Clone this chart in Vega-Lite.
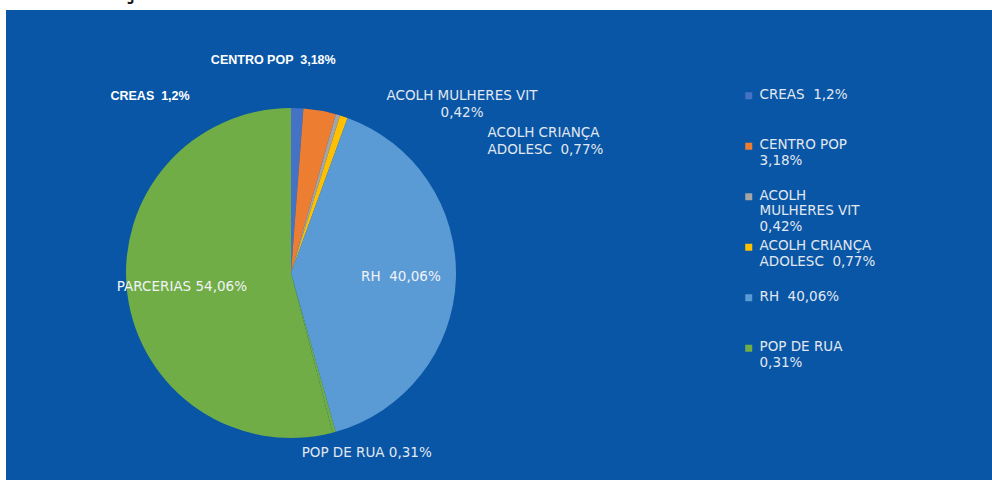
{
  "$schema": "https://vega.github.io/schema/vega-lite/v6.json",
  "width": 986,
  "height": 470,
  "autosize": {"type": "none"},
  "padding": {"left": 6, "top": 10, "right": 0, "bottom": 0},
  "background": "#FFFFFF",
  "view": {"fill": "#0856A5", "stroke": null},
  "title": {"text": "ç", "anchor": "start", "frame": "group", "dx": 116, "offset": 7, "fontSize": 26, "fontWeight": "bold", "color": "#1A1A1A", "font": "DejaVu Sans"},
  "data": {
    "values": [
      {"ordem": 1, "cat": "CREAS", "pct": 1.2, "rotulo": "CREAS \u00a01,2%"},
      {"ordem": 2, "cat": "CENTRO POP", "pct": 3.18, "rotulo": "CENTRO POP \u00a03,18%"},
      {"ordem": 3, "cat": "ACOLH MULHERES VIT", "pct": 0.42, "rotulo": "ACOLH MULHERES VIT|0,42%"},
      {"ordem": 4, "cat": "ACOLH CRIANÇA ADOLESC", "pct": 0.77, "rotulo": "ACOLH CRIANÇA|ADOLESC \u00a00,77%"},
      {"ordem": 5, "cat": "RH", "pct": 40.06, "rotulo": "RH \u00a040,06%"},
      {"ordem": 6, "cat": "POP DE RUA", "pct": 0.31, "rotulo": "POP DE RUA 0,31%"},
      {"ordem": 7, "cat": "PARCERIAS", "pct": 54.06, "rotulo": "PARCERIAS 54,06%"}
    ]
  },
  "encoding": {
    "theta": {"field": "pct", "type": "quantitative", "stack": true},
    "order": {"field": "ordem", "type": "quantitative"}
  },
  "layer": [
    {
      "mark": {"type": "arc", "x": 285, "y": 263, "outerRadius": 165},
      "encoding": {
        "color": {
          "field": "cat",
          "type": "nominal",
          "scale": {
            "domain": ["CREAS", "CENTRO POP", "ACOLH MULHERES VIT", "ACOLH CRIANÇA ADOLESC", "RH", "POP DE RUA", "PARCERIAS"],
            "range": ["#4472C4", "#ED7D31", "#A5A5A5", "#FFC000", "#5B9BD5", "#70AD47", "#70AD47"]
          },
          "legend": {
            "values": ["CREAS", "CENTRO POP", "ACOLH MULHERES VIT", "ACOLH CRIANÇA ADOLESC", "RH", "POP DE RUA"],
            "title": null,
            "orient": "none",
            "legendX": 736,
            "legendY": 79,
            "padding": 0,
            "symbolType": "square",
            "symbolSize": 49,
            "symbolStrokeWidth": 0,
            "labelFont": "DejaVu Sans",
            "labelFontSize": 13.5,
            "labelColor": "#E2E8F1",
            "labelLineHeight": 16.5,
            "labelBaseline": "top",
            "labelOffset": 4,
            "labelLimit": 300,
            "rowPadding": 4.5,
            "encode": {"labels": {"update": {"dy": {"value": -8}}}},
            "labelExpr": "datum.label == 'CREAS' ? ['CREAS \u00a01,2%', '', ''] : datum.label == 'CENTRO POP' ? ['CENTRO POP', '3,18%', ''] : datum.label == 'ACOLH MULHERES VIT' ? ['ACOLH', 'MULHERES VIT', '0,42%'] : datum.label == 'ACOLH CRIANÇA ADOLESC' ? ['ACOLH CRIANÇA', 'ADOLESC \u00a00,77%', ''] : datum.label == 'RH' ? ['RH \u00a040,06%', '', ''] : ['POP DE RUA', '0,31%', '']"
          }
        }
      }
    },
    {
      "mark": {"type": "text", "x": 285, "y": 263, "radius": 110, "font": "DejaVu Sans", "fontSize": 13.5, "color": "#F0F3F8", "align": "center", "baseline": "middle"},
      "encoding": {
        "detail": {"field": "cat"},
        "text": {"condition": {"test": "datum.cat === 'RH' || datum.cat === 'PARCERIAS'", "field": "rotulo"}, "value": ""}
      }
    },
    {
      "mark": {"type": "text", "x": 285, "y": 263, "radius": 177, "dx": -108, "font": "Liberation Sans", "fontWeight": "bold", "fontSize": 12.5, "color": "#FFFFFF", "align": "right", "baseline": "middle"},
      "encoding": {
        "detail": {"field": "cat"},
        "text": {"condition": {"test": "datum.cat === 'CREAS'", "field": "rotulo"}, "value": ""}
      }
    },
    {
      "mark": {"type": "text", "x": 285, "y": 263, "radius": 216, "dx": 7, "font": "Liberation Sans", "fontWeight": "bold", "fontSize": 12.5, "color": "#FFFFFF", "align": "right", "baseline": "middle"},
      "encoding": {
        "detail": {"field": "cat"},
        "text": {"condition": {"test": "datum.cat === 'CENTRO POP'", "field": "rotulo"}, "value": ""}
      }
    },
    {
      "mark": {"type": "text", "x": 285, "y": 263, "radius": 190, "dx": 117, "dy": -2, "font": "DejaVu Sans", "fontSize": 13.5, "color": "#E2E8F1", "align": "center", "baseline": "top", "lineBreak": "|", "lineHeight": 17},
      "encoding": {
        "detail": {"field": "cat"},
        "text": {"condition": {"test": "datum.cat === 'ACOLH MULHERES VIT'", "field": "rotulo"}, "value": ""}
      }
    },
    {
      "mark": {"type": "text", "x": 285, "y": 263, "radius": 155, "dx": 147, "font": "DejaVu Sans", "fontSize": 13.5, "color": "#E2E8F1", "align": "left", "baseline": "top", "lineBreak": "|", "lineHeight": 17},
      "encoding": {
        "detail": {"field": "cat"},
        "text": {"condition": {"test": "datum.cat === 'ACOLH CRIANÇA ADOLESC'", "field": "rotulo"}, "value": ""}
      }
    },
    {
      "mark": {"type": "text", "x": 285, "y": 263, "radius": 186, "dx": 27, "font": "DejaVu Sans", "fontSize": 13.5, "color": "#E2E8F1", "align": "center", "baseline": "middle"},
      "encoding": {
        "detail": {"field": "cat"},
        "text": {"condition": {"test": "datum.cat === 'POP DE RUA'", "field": "rotulo"}, "value": ""}
      }
    }
  ]
}
